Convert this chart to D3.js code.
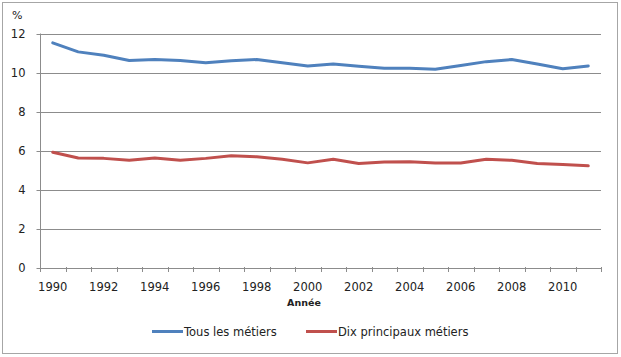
<!DOCTYPE html>
<html><head><meta charset="utf-8">
<script src="https://cdn.jsdelivr.net/npm/d3@7"></script>
<style>body{margin:0;background:#fff}svg{display:block}</style>
</head><body>
<svg id="c" width="621" height="357"></svg>
<script>
const years = [1990,1991,1992,1993,1994,1995,1996,1997,1998,1999,2000,2001,2002,2003,2004,2005,2006,2007,2008,2009,2010,2011];
const tousMetiers = [11.52,11.06,10.89,10.62,10.67,10.62,10.5,10.6,10.67,10.5,10.34,10.44,10.32,10.22,10.22,10.17,10.36,10.56,10.67,10.44,10.2,10.34];
const dixPrincipaux = [5.92,5.63,5.61,5.51,5.63,5.51,5.61,5.74,5.69,5.57,5.38,5.57,5.35,5.42,5.44,5.37,5.37,5.56,5.51,5.35,5.3,5.23];
const yTicks = [0,2,4,6,8,10,12];
const seriesNames = ["Tous les métiers","Dix principaux métiers"];
const colors = ["#4F81BD","#C0504D"];

const svg = d3.select("#c");
const font = "DejaVu Sans";
svg.append("rect").attr("x",2.5).attr("y",2.5).attr("width",615).attr("height",351)
  .attr("fill","#fff").attr("stroke","#a6a6a6");

const L=40, R=601, T=33.5, B=268;
const x = d3.scaleBand().domain(years).range([L,R]);
const y = d3.scaleLinear().domain([0,12]).range([B,T]);

// gridlines
svg.append("g").selectAll("line").data(yTicks.filter(d=>d>0)).join("line")
  .attr("x1",L).attr("x2",R).attr("y1",d=>Math.round(y(d))+0.5).attr("y2",d=>Math.round(y(d))+0.5)
  .attr("stroke","#8c8c8c").attr("stroke-width",1);

// y axis
const ya = svg.append("g").attr("transform",`translate(${L+0.5},0)`)
  .call(d3.axisLeft(y).tickValues(yTicks).tickSize(4).tickPadding(11).tickFormat(d3.format("d")));
ya.select(".domain").attr("stroke","#8c8c8c").attr("d",`M0,${T}V${B}`);
ya.selectAll(".tick line").attr("stroke","#8c8c8c");
ya.selectAll(".tick").attr("transform",d=>`translate(0,${Math.round(y(d))+0.5})`);
ya.selectAll("text").attr("font-family",font).attr("font-size","11.5px").attr("fill","#222");

// x axis
const xa = svg.append("g").attr("transform",`translate(0,${B+0.5})`)
  .call(d3.axisBottom(x).tickValues(years.filter(d=>d%2===0)).tickSize(0).tickPadding(14));
xa.select(".domain").attr("stroke","#8c8c8c").attr("d",`M${L},0H${R}`);
xa.selectAll("text").attr("font-family",font).attr("font-size","11.5px").attr("fill","#222");
// tick marks at band boundaries
const bounds = years.map(d=>x(d)).concat([R]);
svg.append("g").selectAll("line").data(bounds).join("line")
  .attr("x1",d=>Math.round(d)+0.5).attr("x2",d=>Math.round(d)+0.5)
  .attr("y1",B-1).attr("y2",B+4).attr("stroke","#8c8c8c");

// labels
svg.append("text").attr("x",12).attr("y",19).text("%")
  .attr("font-family",font).attr("font-size","11px").attr("fill","#222");
svg.append("text").attr("x",304).attr("y",306).attr("text-anchor","middle").text("Année")
  .attr("font-family",font).attr("font-size","9.5px").attr("font-weight","bold").attr("fill","#222");

// lines
const line = d3.line().x((d,i)=>x(years[i])+x.bandwidth()/2).y(d=>y(d));
[tousMetiers,dixPrincipaux].forEach((s,k)=>{
  svg.append("path").datum(s).attr("d",line).attr("fill","none")
    .attr("stroke",colors[k]).attr("stroke-width",3).attr("stroke-linejoin","round").attr("stroke-linecap","round");
});

// legend
const legX = [152,306];
seriesNames.forEach((n,k)=>{
  svg.append("line").attr("x1",legX[k]).attr("x2",legX[k]+31).attr("y1",331.5).attr("y2",331.5)
    .attr("stroke",colors[k]).attr("stroke-width",3);
  svg.append("text").attr("x",legX[k]+32).attr("y",335.5).text(n)
    .attr("font-family",font).attr("font-size","11.5px").attr("fill","#222");
});
</script>
</body></html>
